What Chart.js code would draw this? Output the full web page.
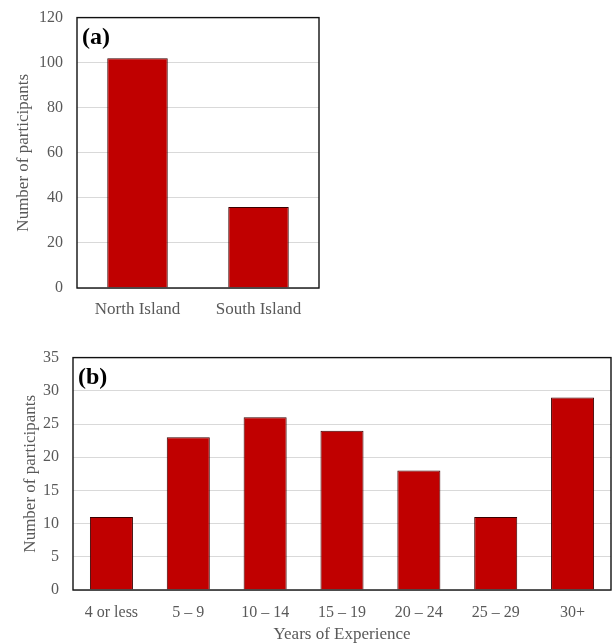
<!DOCTYPE html>
<html>
<head>
<meta charset="utf-8">
<script src="https://cdn.jsdelivr.net/npm/chart.js@4.4.1/dist/chart.umd.min.js"></script>
<style>
  html, body { margin: 0; padding: 0; background: #fff; }
  body { width: 615px; height: 643px; position: relative; overflow: hidden; }
  .box { position: absolute; }
</style>
</head>
<body>
<div class="box" style="left:0;top:-6px;width:330px;height:331px"><canvas id="chartA"></canvas></div>
<div class="box" style="left:0;top:334px;width:615px;height:309px"><canvas id="chartB"></canvas></div>
<script>
// panel (a): participants by island
const islands = ["North Island", "South Island"];
const islandCounts = [102, 36];

// panel (b): participants by years of experience
const experienceGroups = ["4 or less", "5 – 9", "10 – 14", "15 – 19", "20 – 24", "25 – 29", "30+"];
const experienceCounts = [11, 23, 26, 24, 18, 11, 29];

const FONT = "'Liberation Serif', 'Times New Roman', serif";
const GREY = "#595959";
const RED = "#C00000";

// draws the top/right frame and the panel letter
const framePlugin = {
  id: "frame",
  afterDraw(chart, args, opts) {
    const { ctx, chartArea: a } = chart;
    ctx.save();
    ctx.strokeStyle = "#111";
    ctx.lineWidth = 1.4;
    ctx.strokeRect(a.left, a.top, a.right - a.left, a.bottom - a.top);
    ctx.fillStyle = "#000";
    ctx.font = "bold 24px " + FONT;
    ctx.textBaseline = "top";
    ctx.fillText(opts.letter, a.left + 5, a.top + 8);
    ctx.restore();
  }
};

function makeChart(id, labels, values, cfg) {
  return new Chart(document.getElementById(id), {
    type: "bar",
    data: {
      labels: labels,
      datasets: [{
        data: values,
        backgroundColor: RED,
        borderColor: "#3a0000",
        borderWidth: 1,
        categoryPercentage: 1,
        barPercentage: cfg.barPct
      }]
    },
    options: {
      responsive: true,
      maintainAspectRatio: false,
      animation: false,
      layout: { padding: { top: 0, right: cfg.right, left: 0, bottom: 0 } },
      plugins: {
        legend: { display: false },
        tooltip: { enabled: false },
        frame: { letter: cfg.letter }
      },
      scales: {
        x: {
          grid: { display: false },
          border: { display: false },
          ticks: { color: GREY, font: { family: FONT, size: cfg.xFont }, padding: cfg.xPad, maxRotation: 0, autoSkip: false },
          title: cfg.xTitle
            ? { display: true, text: cfg.xTitle, color: GREY, font: { family: FONT, size: 17 }, padding: { top: 0, bottom: -2 } }
            : { display: false },
          afterFit: s => { s.height = cfg.xHeight; }
        },
        y: {
          min: 0,
          max: cfg.max,
          ticks: { stepSize: cfg.step, color: GREY, font: { family: FONT, size: 16 }, padding: 14 },
          grid: { color: "#d9d9d9", lineWidth: 1, drawTicks: false },
          border: { display: false },
          title: { display: true, text: "Number of participants", color: GREY, font: { family: FONT, size: 17 }, padding: { top: cfg.yTitlePad, bottom: 0 } },
          afterFit: s => { s.width = cfg.yWidth; }
        }
      }
    },
    plugins: [framePlugin]
  });
}

makeChart("chartA", islands, islandCounts, {
  letter: "(a)", max: 120, step: 20, barPct: 0.5,
  right: 11, yWidth: 77, xHeight: 37, xFont: 17, xPad: 3, yTitlePad: 13
});

makeChart("chartB", experienceGroups, experienceCounts, {
  letter: "(b)", max: 35, step: 5, barPct: 0.56,
  right: 4, yWidth: 73, xHeight: 53, xFont: 16, xPad: 5, yTitlePad: 20, xTitle: "Years of Experience"
});
</script>
</body>
</html>
